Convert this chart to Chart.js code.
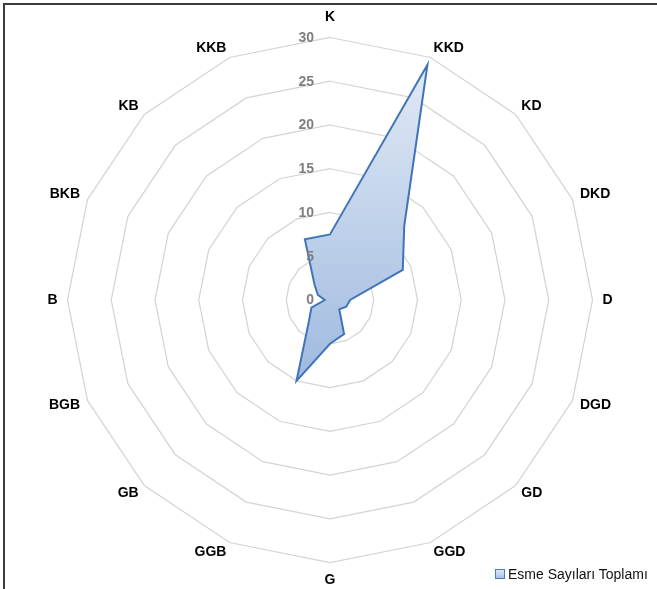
<!DOCTYPE html>
<html>
<head>
<meta charset="utf-8">
<script src="https://cdn.jsdelivr.net/npm/chart.js@4/dist/chart.umd.min.js"></script>
<style>
  html, body { margin: 0; padding: 0; background: #ffffff; overflow: hidden; }
  #wrap { position: relative; width: 657px; height: 589px; overflow: hidden; }
  #frame { position: absolute; left: 3px; top: 3px; width: 700px; height: 700px; border: 2px solid #3c3c3c; box-sizing: border-box; }
  #c { position: absolute; left: 0; top: 0; }
  #legend { position: absolute; left: 495px; top: 566px; font: 14px "Liberation Sans", Arial, sans-serif; color: #111; white-space: nowrap; display: flex; align-items: center; }
  #legend .sw { display: inline-block; width: 8px; height: 8px; border: 1px solid #4a7ebb; background: linear-gradient(#dde7f4, #a9c2e4); margin-right: 3px; }
</style>
</head>
<body>
<div id="wrap">
  <div id="frame"></div>
  <canvas id="c" width="657" height="589"></canvas>
  <div id="legend"><span class="sw"></span><span id="legendText"></span></div>
</div>
<script>
// ---- data ----
const categories = ['K', 'KKD', 'KD', 'DKD', 'D', 'DGD', 'GD', 'GGD', 'G', 'GGB', 'GB', 'BGB', 'B', 'BKB', 'KB', 'KKB'];
const seriesName = 'Esme Sayıları Toplamı';
const seriesValues = [7.5, 29.1, 12, 9, 2.3, 2, 1.5, 4.2, 5, 10, 3.4, 2.3, 0.6, 1.5, 2.5, 7.5];
const scaleMin = 0;
const scaleMax = 30;
const scaleStep = 5;

document.getElementById('legendText').textContent = seriesName;

const FONT = '"Liberation Sans", Arial, sans-serif';

// tick labels drawn to the left of the vertical axis (as in the reference)
const leftTicks = {
  id: 'leftTicks',
  afterDatasetsDraw(chart) {
    const s = chart.scales.r;
    const ctx = chart.ctx;
    ctx.save();
    ctx.font = 'bold 14px ' + FONT;
    ctx.fillStyle = '#7f7f7f';
    ctx.textAlign = 'right';
    ctx.textBaseline = 'middle';
    s.ticks.forEach(t => {
      const d = s.getDistanceFromCenterForValue(t.value);
      ctx.fillText(t.label, s.xCenter - 16, s.yCenter - d + 0.5);
    });
    ctx.restore();
  }
};

new Chart(document.getElementById('c'), {
  type: 'radar',
  data: {
    labels: categories,
    datasets: [{
      label: seriesName,
      data: seriesValues,
      borderColor: '#3f74b8',
      borderWidth: 2,
      pointRadius: 0,
      pointHoverRadius: 0,
      tension: 0,
      fill: true,
      backgroundColor: (c) => {
        const chart = c.chart;
        const s = chart.scales && chart.scales.r;
        if (!s || !chart.chartArea || !isFinite(s.yCenter)) return '#c6d7ee';
        const g = chart.ctx.createLinearGradient(0, s.yCenter - s.drawingArea * 0.9, 0, s.yCenter + s.drawingArea * 0.31);
        g.addColorStop(0, '#e1e9f5');
        g.addColorStop(1, '#9fbadf');
        return g;
      }
    }]
  },
  options: {
    responsive: false,
    animation: false,
    devicePixelRatio: 1,
    layout: { padding: { top: 14, bottom: 4, left: 3, right: 0 } },
    plugins: {
      legend: { display: false },
      tooltip: { enabled: false }
    },
    scales: {
      r: {
        min: scaleMin,
        max: scaleMax,
        ticks: { stepSize: scaleStep, display: false },
        grid: { color: '#d4d4d4', lineWidth: 1.25 },
        angleLines: { display: false },
        pointLabels: {
          color: '#000000',
          font: { family: FONT, size: 14, weight: 'bold', lineHeight: 0.3 },
          padding: (c) => {
            if (c.index === 0) return 18.3;
            if (c.index === 8) return 15.7;
            if (c.index === 4 || c.index === 12) return 10;
            return 8;
          }
        }
      }
    }
  },
  plugins: [leftTicks]
});
</script>
</body>
</html>
